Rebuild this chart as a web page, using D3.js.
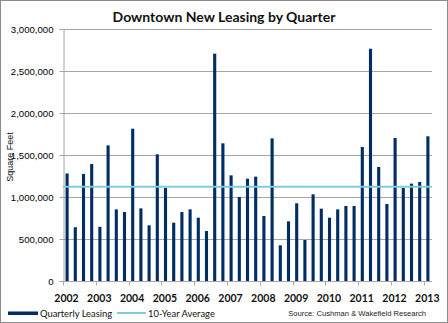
<!DOCTYPE html>
<html><head><meta charset="utf-8">
<script src="https://cdn.jsdelivr.net/npm/d3@7"></script>
<style>
html,body{margin:0;padding:0;background:#fff;}
svg{display:block;}
</style></head>
<body>
<svg id="chart" width="448" height="323"></svg>
<script>
const years = ["2002","2003","2004","2005","2006","2007","2008","2009","2010","2011","2012","2013"];
const quarters = ["2002Q1","2002Q2","2002Q3","2002Q4","2003Q1","2003Q2","2003Q3","2003Q4","2004Q1","2004Q2","2004Q3","2004Q4","2005Q1","2005Q2","2005Q3","2005Q4","2006Q1","2006Q2","2006Q3","2006Q4","2007Q1","2007Q2","2007Q3","2007Q4","2008Q1","2008Q2","2008Q3","2008Q4","2009Q1","2009Q2","2009Q3","2009Q4","2010Q1","2010Q2","2010Q3","2010Q4","2011Q1","2011Q2","2011Q3","2011Q4","2012Q1","2012Q2","2012Q3","2012Q4","2013Q1"];
const leasing = [1280000,640000,1275000,1393000,645000,1615000,853000,821000,1813000,865000,663000,1508000,1107000,694000,821000,853000,754000,595000,2706000,1639000,1258000,1000000,1218000,1242000,774000,1698000,425000,710000,925000,488000,1032000,861000,754000,853000,893000,893000,1595000,2765000,1357000,917000,1702000,1107000,1159000,1179000,1723000];
const average = 1123000;
const yTicks = [0,500000,1000000,1500000,2000000,2500000,3000000];

const svg = d3.select("#chart");
const W = 448, H = 323;
const plot = {left:63, right:432, top:29, bottom:281};

svg.append("rect").attr("x",0.5).attr("y",0.5).attr("width",W-1).attr("height",H-1)
  .attr("fill","#fff").attr("stroke","#8c8c8c").attr("stroke-width",1);

const x = d3.scaleBand().domain(quarters).range([plot.left, plot.right]).paddingInner(0.62).paddingOuter(0.31);
const y = d3.scaleLinear().domain([0,3000000]).range([plot.bottom, plot.top]);
const fmt = d3.format(",");

// gridlines
svg.append("g").selectAll("line").data(yTicks.filter(d=>d>0)).join("line")
  .attr("x1",plot.left).attr("x2",plot.right)
  .attr("y1",d=>Math.round(y(d))+0.5).attr("y2",d=>Math.round(y(d))+0.5)
  .attr("stroke","#a6a6a6").attr("stroke-width",1);

// y axis
const yAxis = d3.axisLeft(y).tickValues(yTicks).tickFormat(fmt).tickSize(4).tickPadding(6);
const gy = svg.append("g").attr("transform",`translate(${plot.left+0.5},0)`).call(yAxis);
gy.select(".domain").attr("stroke","#a6a6a6");
gy.selectAll(".tick line").attr("stroke","#a6a6a6");
gy.selectAll(".tick text").attr("font-family","Liberation Sans, Arial, sans-serif").attr("font-size","9.6px").attr("fill","#000");

// bars
svg.append("g").selectAll("rect").data(leasing).join("rect")
  .attr("x",(d,i)=>x(quarters[i]))
  .attr("width",x.bandwidth())
  .attr("y",d=>y(d))
  .attr("height",d=>y(0)-y(d))
  .attr("fill","#002e63");

// x axis
const xYear = d3.scaleLinear().domain([0,quarters.length]).range([plot.left, plot.right]);
const gx = svg.append("g").attr("transform",`translate(0,${plot.bottom+0.5})`);
gx.append("line").attr("x1",plot.left).attr("x2",plot.right).attr("stroke","#a6a6a6");
gx.selectAll("line.tk").data(years).join("line").attr("class","tk")
  .attr("x1",(d,i)=>Math.round(xYear(i*4))+0.5).attr("x2",(d,i)=>Math.round(xYear(i*4))+0.5)
  .attr("y1",0).attr("y2",4).attr("stroke","#a6a6a6");
gx.selectAll("text").data(years).join("text")
  .attr("x",(d,i)=>xYear(i*4)+3.5).attr("y",20)
  .attr("text-anchor","middle")
  .attr("font-family","Lato, sans-serif").attr("font-weight","bold").attr("font-size","10.5px").attr("fill","#111")
  .text(d=>d);

// average line
svg.append("line").attr("x1",plot.left).attr("x2",plot.right)
  .attr("y1",y(average)).attr("y2",y(average))
  .attr("stroke","#7fcbe0").attr("stroke-width",2);

// title
svg.append("text").attr("x",224).attr("y",22).attr("text-anchor","middle")
  .attr("font-family","Lato, sans-serif").attr("font-weight","bold").attr("font-size","14px").attr("fill","#111")
  .text("Downtown New Leasing by Quarter");

// y title
svg.append("text").attr("transform",`translate(13,157) rotate(-90)`).attr("text-anchor","middle")
  .attr("font-family","Liberation Sans, Arial, sans-serif").attr("font-size","9px").attr("fill","#111")
  .text("Square Feet");

// legend
const lg = svg.append("g");
lg.append("rect").attr("x",8).attr("y",311.5).attr("width",30).attr("height",3.5).attr("fill","#002e63");
lg.append("text").attr("x",40).attr("y",317).attr("font-family","Lato, sans-serif").attr("font-size","9.4px").attr("fill","#111").text("Quarterly Leasing");
lg.append("line").attr("x1",117).attr("x2",146).attr("y1",313).attr("y2",313).attr("stroke","#7fcbe0").attr("stroke-width",2);
lg.append("text").attr("x",148).attr("y",317).attr("font-family","Lato, sans-serif").attr("font-size","9.4px").attr("fill","#111").text("10-Year Average");
svg.append("text").attr("x",426).attr("y",316).attr("text-anchor","end")
  .attr("font-family","Liberation Sans, Arial, sans-serif").attr("font-size","7.6px").attr("fill","#222")
  .text("Source: Cushman & Wakefield Research");
</script>
</body></html>
